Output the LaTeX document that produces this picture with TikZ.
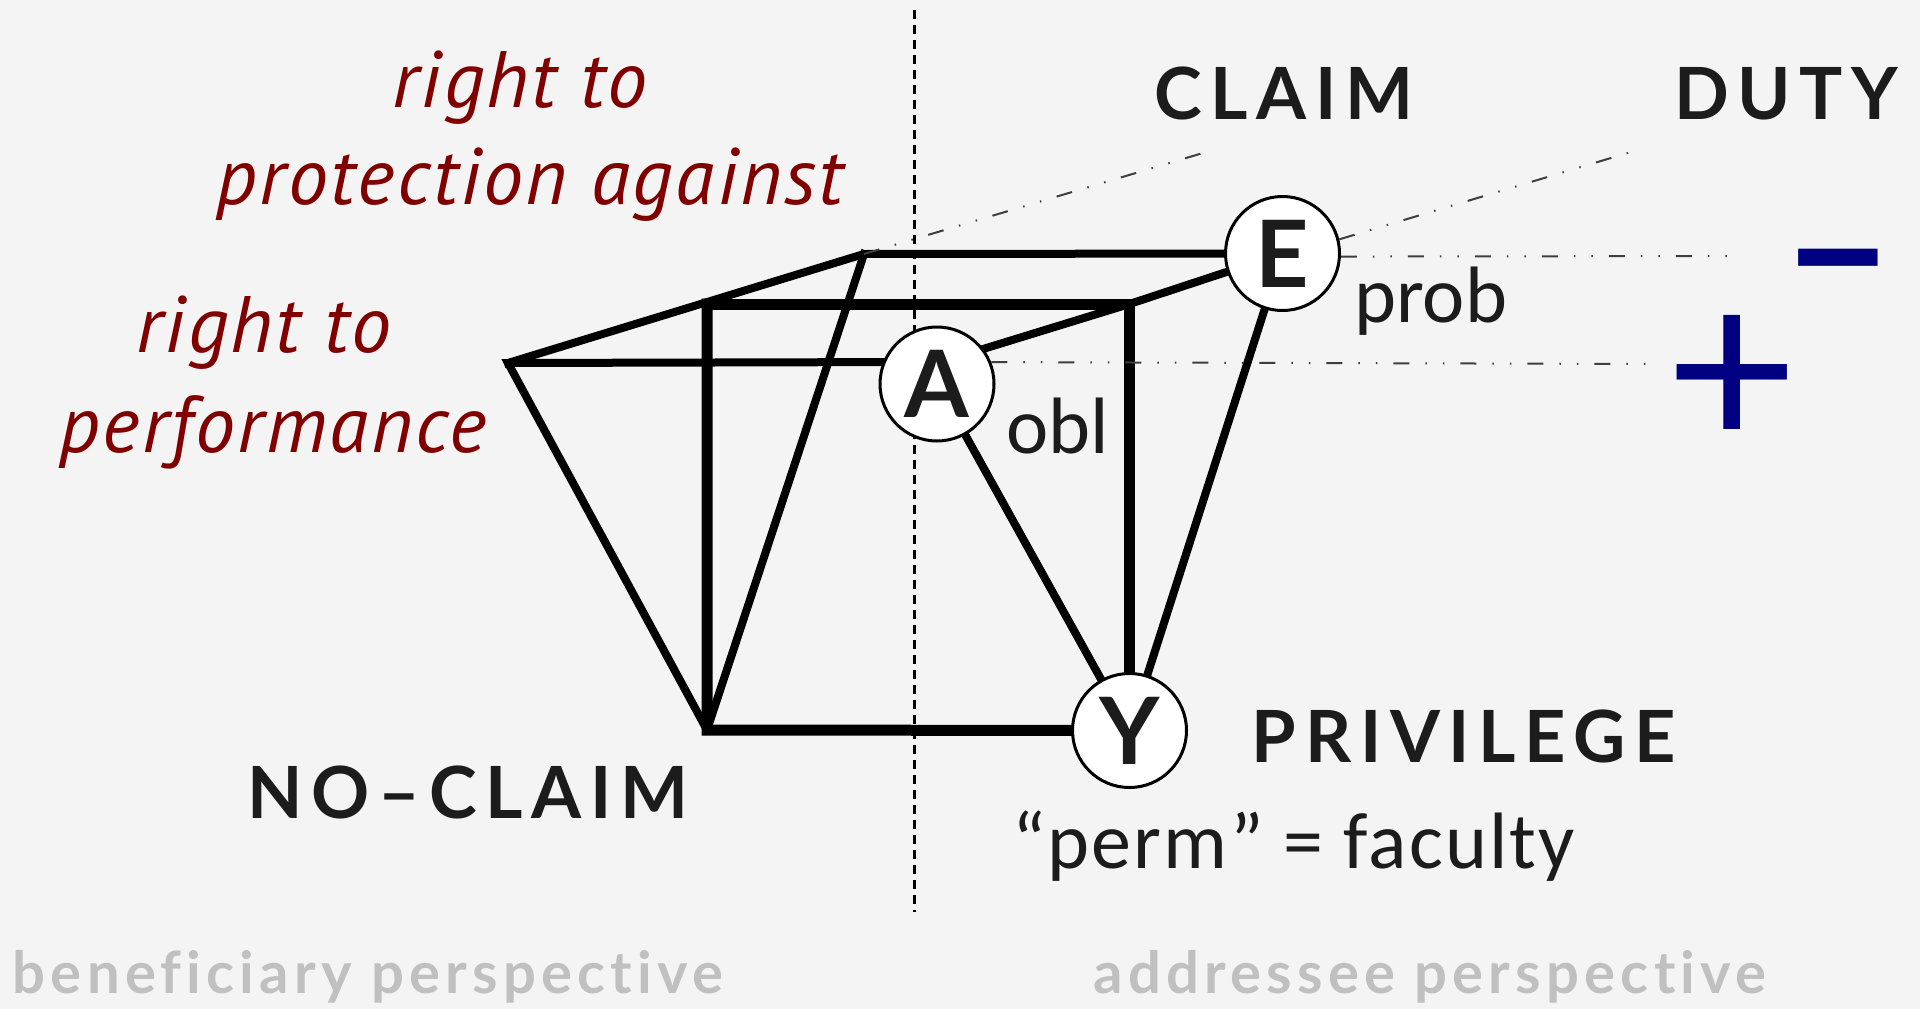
\documentclass[tikz,border=0pt]{standalone}
\usepackage{fontspec}
\setmainfont{Carlito}[Ligatures=NoCommon]
\newfontfamily\rightfont{PT Sans}[LetterSpace=3,Ligatures=NoCommon]
\newfontfamily\capsfont[LetterSpace=12]{Lato}
\newfontfamily\letterfont{Lato}
\newfontfamily\greyfont[LetterSpace=9,Ligatures=NoCommon]{Lato}
\definecolor{paper}{HTML}{F4F4F4}
\definecolor{ink}{HTML}{1C1C1C}
\definecolor{rightred}{HTML}{800000}
\definecolor{signblue}{HTML}{000080}
\definecolor{sidegrey}{HTML}{C0C0C0}
\pgfdeclarelayer{back}
\pgfsetlayers{back,main}

\begin{document}
\begin{tikzpicture}[x=1pt,y=-1pt,
  edge/.style={line width=8,line cap=rect},
  frontedge/.style={line width=11,line cap=rect},
  guide/.style={line width=2,ink!85,dash pattern=on 16 off 16 on 1.5 off 16 on 1.5 off 16},
  splitline/.style={line width=3,dash pattern=on 9 off 6},
  vertex/.style={circle,draw,line width=3,fill=white,inner sep=0,minimum size=114,text=ink,
    font=\letterfont\bfseries\fontsize{93}{93}\selectfont},
  modal/.style={font=\capsfont\bfseries\fontsize{72}{72}\selectfont,text=ink,anchor=base,inner sep=0},
  shortname/.style={font=\fontsize{80}{80}\selectfont,text=ink,anchor=base west,inner sep=0},
  rightlabel/.style={font=\rightfont\itshape\fontsize{80}{80}\selectfont,text=rightred,anchor=base,inner sep=0},
  side/.style={font=\greyfont\bfseries\fontsize{58}{58}\selectfont,text=sidegrey,anchor=base,inner sep=0},
  sign/.style={text=signblue,inner sep=0}]
\begin{pgfonlayer}{back}
\fill[paper] (0,0) rectangle (1920,1009);
\end{pgfonlayer}
\useasboundingbox (0,0) rectangle (1920,1009);

% the two perspectives
\coordinate (splittop) at (914,10);
\coordinate (splitbot) at (914,912);
\draw[splitline] (splittop) -- (splitbot);

% positions
\node[vertex] (E) at (1282.5,253.5) {E};
\node[vertex] (A) at (937,384) {A};
\node[vertex] (Y) at (1129.5,730.5) {Y};
\coordinate (ptip) at (508,363);
\coordinate (ftl) at (707,304);
\coordinate (btl) at (864,254);
\coordinate (ftr) at (1129.5,304);
\coordinate (fbl) at (707,730);

\begin{pgfonlayer}{back}
\draw[edge] (A.158) -- (ptip) -- (fbl);
\draw[edge] (ptip) -- (btl) -- (E);
\draw[edge] (btl) -- (fbl);
\draw[edge] (E) -- (ftr) -- (A.37);
\draw[edge] (A) -- (Y);
\draw[edge] (E) -- (Y);
\draw[frontedge] (ftl) -- (ftr) -- (Y);
\draw[frontedge] (ftl) -- (fbl) -- (Y);
\end{pgfonlayer}

% guides to the labels
\coordinate (claimend) at (1213,150);
\coordinate (dutyend) at (1641,149);
\coordinate (probend) at (1732,256);
\coordinate (oblend) at (1647,364);
\draw[guide] (btl) -- (claimend);
\draw[guide] (E.14) -- (dutyend);
\draw[guide] (E.357) -- (probend);
\draw[guide] (A.22) -- (oblend);

\node[sign,font=\letterfont\fontsize{230}{230}\selectfont] (plus) at (1732,382) {+};
\node[sign,font=\letterfont\bfseries\fontsize{196}{196}\selectfont] (minus) at (1838,283) {–};

\node[modal] (claim) at (1284,119) {CLAIM};
\node[modal] (duty) at (1786,119) {DUTY};
\node[modal] (privilege) at (1464,762) {PRIVILEGE};
\node[modal] (noclaim) at (468,818) {NO–CLAIM};

\node[shortname] (prob) at (1354,322) {prob};
\node[shortname] (obl) at (1006,453) {obl};
\node[shortname] (perm) at (1012,868) {\addfontfeature{LetterSpace=2.7}“perm” = faculty};

\node[rightlabel] (rt1) at (520,107) {right to};
\node[rightlabel] (rt2) at (530,204) {protection against};
\node[rightlabel] (rp1) at (264,352) {right to};
\node[rightlabel] (rp2) at (273,452) {performance};

\node[side] (benef) at (368,993) {beneficiary perspective};
\node[side] (addr) at (1430,993) {addressee perspective};
\end{tikzpicture}
\end{document}
